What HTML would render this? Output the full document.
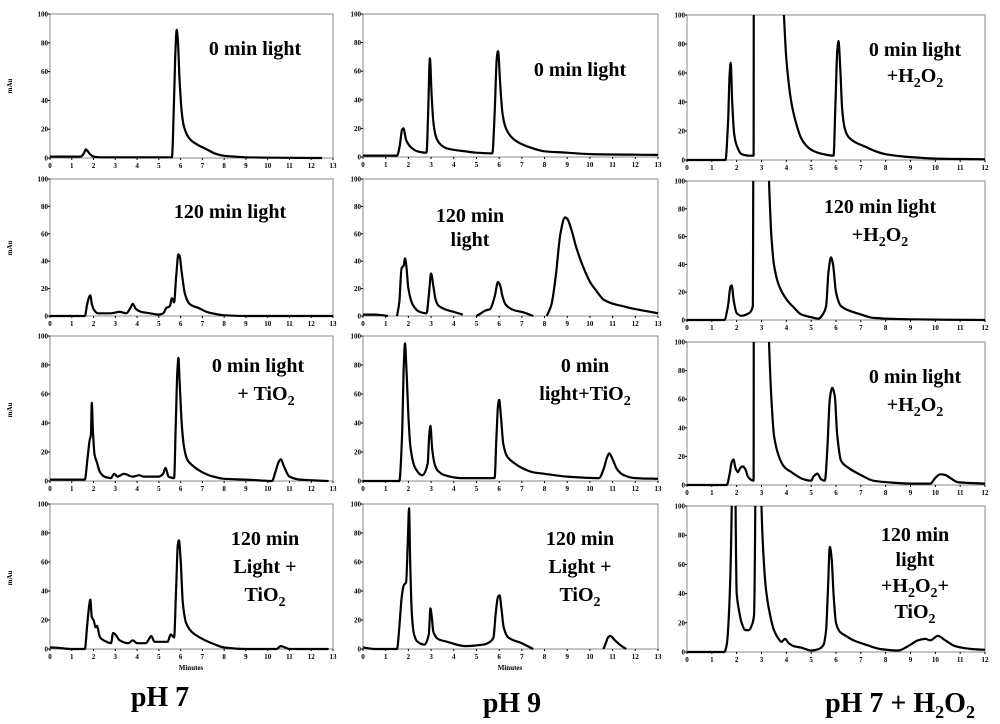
<!DOCTYPE html>
<html><head><meta charset="utf-8"><style>
html,body{margin:0;padding:0;background:#fff}
svg{display:block}
text{font-family:"Liberation Serif",serif;font-weight:bold;fill:#000}
.tk{font-size:7px}
.lb{font-size:20px}
</style></head><body>
<svg id="fig" width="1000" height="724" viewBox="0 0 1000 724" xmlns="http://www.w3.org/2000/svg">
<defs id="defs"></defs>
<g id="panels"></g>
<text x="12" y="86" class="tk" transform="rotate(-90 12 86)" text-anchor="middle">mAu</text>
<text x="12" y="248" class="tk" transform="rotate(-90 12 248)" text-anchor="middle">mAu</text>
<text x="12" y="410" class="tk" transform="rotate(-90 12 410)" text-anchor="middle">mAu</text>
<text x="12" y="578" class="tk" transform="rotate(-90 12 578)" text-anchor="middle">mAu</text>
<text x="191" y="670" class="tk" text-anchor="middle">Minutes</text>
<text x="510" y="670" class="tk" text-anchor="middle">Minutes</text>
<text x="160" y="706" font-size="28" text-anchor="middle">pH 7</text>
<text x="512" y="712" font-size="28" text-anchor="middle">pH 9</text>
<text x="900" y="712" font-size="28" text-anchor="middle">pH 7 + H<tspan font-size="18" dy="6">2</tspan><tspan dy="-6">O</tspan><tspan font-size="18" dy="6">2</tspan></text>
</svg>
<script>
// ---- data: retention times (min) and absorbance (mAu); null = gap ----
const p1t=[0,1.4,1.55,1.65,1.72,1.85,2.0,2.3,5.6,5.68,5.75,5.82,5.88,5.95,6.05,6.15,6.3,6.5,6.8,7.2,7.6,8,8.5,9,12.5];
const p1v=[1,1,3,6,5,2.5,1,0.5,0.5,30,70,89,80,55,32,22,16,12,9,6,3,1.5,1,0.5,0];
const p2t=[0,1.5,1.62,1.72,1.78,1.9,2.1,2.4,2.8,2.87,2.95,3.02,3.1,3.2,3.4,3.7,4,4.5,5,5.7,5.8,5.9,5.95,6.05,6.15,6.3,6.6,7,7.5,8,9,10,13];
const p2v=[1,1,8,19,20,12,7,4,3,30,69,45,25,15,9,6,5,4,3,2.5,30,70,74,50,30,20,13,9,6,4,3,2,1.5];
const p3t=[0,1.55,1.65,1.72,1.76,1.82,1.9,2.0,2.2,2.5,2.68,2.7,3.3,3.9,4.0,4.2,4.4,4.6,4.8,5,5.5,5.9,5.98,6.05,6.1,6.18,6.25,6.35,6.5,6.8,7.2,7.6,8,9,10,12];
const p3v=[0,0,25,60,67,40,18,10,4,3,3,300,300,100,70,40,25,15,10,7,4,3,40,75,82,60,35,22,16,12,9,6,4,2,1,0.5];
const p4t=[0,1.6,1.7,1.8,1.85,1.92,2.0,2.2,2.5,2.8,3.2,3.5,3.7,3.8,3.95,4.2,4.6,5,5.2,5.35,5.5,5.6,5.7,5.8,5.9,5.95,6.05,6.2,6.4,6.6,6.8,7.2,7.6,8,9,13];
const p4v=[0,0,8,14,15,9,5,2,2,2,3,2,6,9,5,3,2,1,2,6,7,13,10,30,45,44,32,16,9,7,6,3,1.5,0.5,0,0];
const p5t=[0,0.5,1.1,null,1.5,1.6,1.7,1.8,1.85,1.9,2.0,2.2,2.5,2.8,2.9,3.0,3.1,3.2,3.3,3.6,4.0,4.4,null,5.0,5.2,5.4,5.6,5.8,5.95,6.05,6.15,6.3,6.7,7.0,7.5,null,8.1,8.3,8.5,8.7,8.9,9.0,9.2,9.4,9.7,10.0,10.3,10.6,11,11.5,12,12.5,13];
const p5v=[1,1,0,null,0,10,35,37,42,38,20,8,3,2,15,31,22,12,8,5,3,1,null,0,2,4,5,14,25,22,14,8,4,3,0,null,0,8,30,60,72,71,62,50,36,25,18,12,9,7,5,3.5,2];
const p6t=[0,1.5,1.65,1.75,1.8,1.88,2.0,2.2,2.5,2.65,2.7,3.0,3.3,3.4,3.5,3.7,4.0,4.3,4.6,5,5.3,5.5,5.6,5.7,5.8,5.88,6.0,6.2,6.5,7,7.5,8,9,12];
const p6v=[0,0,10,24,25,14,5,3,5,10,300,300,100,60,40,25,15,9,4,2,1,5,10,35,45,40,20,10,7,4,1.5,1,0.5,0];
const p7t=[0,1.6,1.72,1.82,1.88,1.92,1.97,2.05,2.15,2.3,2.5,2.8,2.95,3.1,3.4,3.8,4.1,4.3,5,5.2,5.3,5.45,5.7,5.78,5.85,5.9,5.95,6.05,6.15,6.3,6.6,7,7.5,8,9,10.2,10.35,10.5,10.6,10.75,11,11.5,12.8];
const p7v=[1,1,15,28,32,54,35,18,13,6,3,2,5,3,5,3,4,3,3,5,9,3,2,40,75,85,70,40,24,15,10,6,3,1.5,1,0,6,13,15,10,3,1,0];
const p8t=[0,1.6,1.72,1.8,1.85,1.92,2.0,2.1,2.3,2.6,2.85,2.92,2.97,3.05,3.15,3.3,3.6,4.3,4.8,5.8,5.88,5.95,6.0,6.08,6.18,6.35,6.7,7,7.5,8,9,10.4,10.6,10.75,10.85,11.0,11.2,11.5,12,13];
const p8v=[0,0,30,80,95,75,45,22,9,4,12,32,38,22,12,7,4,2,2,2,30,52,56,44,26,17,12,9,6,5,3,2,8,16,19,15,8,4,2,1.5];
const p9t=[0,1.6,1.72,1.8,1.87,1.95,2.05,2.15,2.25,2.35,2.45,2.55,2.68,2.7,3,3.3,3.4,3.5,3.7,3.9,4.2,4.7,5,5.1,5.25,5.4,5.55,5.65,5.75,5.85,5.95,6.05,6.2,6.5,7,7.5,8,9,9.8,10.0,10.2,10.4,10.6,10.9,11.3,12];
const p9v=[0,0,8,16,18,12,9,12,13,11,6,4,3,300,300,100,60,35,20,13,9,4,3,6,8,4,3,25,60,68,62,35,17,12,7,3,2,1,1,5,7.5,7,5,2,1.5,1];
const p10t=[0,0.1,1,1.6,1.7,1.8,1.85,1.92,2.0,2.1,2.15,2.3,2.6,2.8,2.9,3.0,3.2,3.6,3.8,4.0,4.4,4.55,4.65,4.8,5.4,5.55,5.7,5.8,5.87,5.92,6.0,6.1,6.25,6.5,7,7.6,8,9,10.4,10.6,10.8,11,12.8];
const p10v=[1,1,0,0,15,30,34,22,20,15,16,8,5,4,11,10,6,4,6,4,4,7,9,5,5,10,8,45,72,75,62,32,18,12,7,3,1,0,0,2,1,0,0];
const p11t=[0,0.5,0.9,1.5,1.6,1.7,1.8,1.9,1.97,2.03,2.08,2.15,2.25,2.4,2.7,2.9,2.97,3.03,3.1,3.3,3.7,4.5,5.3,5.6,5.75,5.85,5.95,6.02,6.1,6.2,6.4,7,7.5,null,10.6,10.7,10.8,10.9,11.1,11.4,11.6];
const p11v=[1,0,0,0,15,35,44,46,72,97,60,25,10,5,3,10,28,22,12,7,5,2,3,5,8,25,36,37,28,15,8,4,0,null,0,4,8,9,6,2,0];
const p12t=[0,1.5,1.6,1.7,1.8,1.85,2.0,2.1,2.2,2.35,2.5,2.6,2.7,2.75,2.8,2.9,3.0,3.1,3.2,3.35,3.5,3.65,3.8,3.95,4.1,4.3,4.6,5,5.3,5.5,5.6,5.68,5.75,5.82,5.9,6.0,6.15,6.4,6.7,7.2,7.8,8.5,9,9.3,9.6,9.8,10.1,10.4,10.8,11.5,12];
const p12v=[0,0,5,30,100,300,40,28,20,15,15,18,25,100,300,300,100,60,40,25,15,10,7,9,6,4,3,1,2,5,15,45,72,65,40,20,14,11,8,5,2,1,5,8,9,8,11,8,4,2,1.5];
const yTicks=[0,20,40,60,80,100];
const xTicks13=[0,1,2,3,4,5,6,7,8,9,10,11,12,13];
const xTicks12=[0,1,2,3,4,5,6,7,8,9,10,11,12];

const NS="http://www.w3.org/2000/svg";
const panels=[
 {id:"ph7-0min",t:p1t,v:p1v,x0:50,x1:333,top:14,zero:158,xmax:13,lbl:[["0 min light",255,55]]},
 {id:"ph9-0min",t:p2t,v:p2v,x0:363,x1:658,top:14,zero:157,xmax:13,lbl:[["0 min light",580,76]]},
 {id:"h2o2-0min",t:p3t,v:p3v,x0:687,x1:985,top:15,zero:160,xmax:12,lbl:[["0 min light",915,56],["+H|2|O|2",915,82]]},
 {id:"ph7-120min",t:p4t,v:p4v,x0:50,x1:333,top:179,zero:316,xmax:13,lbl:[["120 min light",230,218]]},
 {id:"ph9-120min",t:p5t,v:p5v,x0:363,x1:658,top:179,zero:316,xmax:13,lbl:[["120 min",470,222],["light",470,246]]},
 {id:"h2o2-120min",t:p6t,v:p6v,x0:687,x1:985,top:181,zero:320,xmax:12,lbl:[["120 min light",880,213],["+H|2|O|2",880,241]]},
 {id:"ph7-0min-tio2",t:p7t,v:p7v,x0:50,x1:333,top:336,zero:481,xmax:13,lbl:[["0 min light",258,372],["+ TiO|2",266,400]]},
 {id:"ph9-0min-tio2",t:p8t,v:p8v,x0:363,x1:658,top:336,zero:481,xmax:13,lbl:[["0 min",585,372],["light+TiO|2",585,400]]},
 {id:"h2o2-0min-tio2",t:p9t,v:p9v,x0:687,x1:985,top:342,zero:485,xmax:12,lbl:[["0 min light",915,383],["+H|2|O|2",915,411]]},
 {id:"ph7-120min-tio2",t:p10t,v:p10v,x0:50,x1:333,top:504,zero:649,xmax:13,lbl:[["120 min",265,545],["Light +",265,573],["TiO|2",265,601]]},
 {id:"ph9-120min-tio2",t:p11t,v:p11v,x0:363,x1:658,top:504,zero:649,xmax:13,lbl:[["120 min",580,545],["Light +",580,573],["TiO|2",580,601]]},
 {id:"h2o2-120min-tio2",t:p12t,v:p12v,x0:687,x1:985,top:506,zero:652,xmax:12,lbl:[["120 min",915,541],["light",915,566],["+H|2|O|2|+",915,592],["TiO|2",915,618]]}
];
const root=document.getElementById("panels"),defs=document.getElementById("defs");
function mk(tag,attrs,parent){const e=document.createElementNS(NS,tag);for(const k in attrs)e.setAttribute(k,attrs[k]);parent.appendChild(e);return e;}
// monotone cubic (Fritsch-Carlson) path through pixel points
function monoPath(P){
 const n=P.length;if(n<2)return "";
 let d="M"+P[0][0].toFixed(1)+" "+P[0][1].toFixed(1);
 if(n===2)return d+"L"+P[1][0].toFixed(1)+" "+P[1][1].toFixed(1);
 const dx=[],s=[],m=[];
 for(let i=0;i<n-1;i++){dx[i]=P[i+1][0]-P[i][0];s[i]=(P[i+1][1]-P[i][1])/dx[i];}
 m[0]=s[0];m[n-1]=s[n-2];
 for(let i=1;i<n-1;i++){m[i]=(s[i-1]*s[i]<=0)?0:(3*(dx[i-1]+dx[i]))/((2*dx[i]+dx[i-1])/s[i-1]+(dx[i]+2*dx[i-1])/s[i]);}
 for(let i=0;i<n-1;i++){
  const h=dx[i];
  d+="C"+(P[i][0]+h/3).toFixed(1)+" "+(P[i][1]+m[i]*h/3).toFixed(1)+" "+(P[i+1][0]-h/3).toFixed(1)+" "+(P[i+1][1]-m[i+1]*h/3).toFixed(1)+" "+P[i+1][0].toFixed(1)+" "+P[i+1][1].toFixed(1);
 }
 return d;
}
panels.forEach((p,i)=>{
 const g=mk("g",{},root);
 
 
 const xs=t=>p.x0+(t/p.xmax)*(p.x1-p.x0);
 const ys=v=>p.zero-(v/100)*(p.zero-p.top);
 const cp=mk("clipPath",{id:"c"+i},defs);
 mk("rect",{x:p.x0,y:p.top,width:p.x1-p.x0,height:p.zero-p.top+2},cp);
 const fr=mk("rect",{x:p.x0,y:p.top,width:p.x1-p.x0,height:p.zero-p.top,fill:"none",stroke:"#888","stroke-width":1},g);
 
 
 yTicks.forEach(v=>{
  const tx=mk("text",{x:p.x0-2,y:ys(v)+2.5,class:"tk","text-anchor":"end"},g);tx.textContent=v;
  
  
  mk("line",{x1:p.x0-2,x2:p.x0,y1:ys(v),y2:ys(v),stroke:"#000","stroke-width":1},g);
 });
 (p.xmax===13?xTicks13:xTicks12).forEach(t=>{
  const tx=mk("text",{x:xs(t),y:p.zero+10,class:"tk","text-anchor":"middle"},g);tx.textContent=t;
  
  
  mk("line",{x1:xs(t),x2:xs(t),y1:p.zero,y2:p.zero+2,stroke:"#000","stroke-width":1},g);
 });
 let d="",seg=[];
 const flush=()=>{if(seg.length)d+=monoPath(seg)+" ";seg=[];};
 p.t.forEach((t,k)=>{const v=p.v[k];if(t===null||v===null){flush();return;}seg.push([xs(t),ys(v)]);});
 flush();
 const path=mk("path",{d:d,fill:"none",stroke:"#000","stroke-width":2.2,"stroke-linejoin":"round","clip-path":"url(#c"+i+")"},g);
 
 
 p.lbl.forEach(([s,x,y])=>{
  const tx=mk("text",{x:x,y:y,class:"lb","text-anchor":"middle"},g);
  
  
  const parts=s.split("|");
  parts.forEach((pt,j)=>{
   const ts=mk("tspan",{},tx);ts.textContent=pt;
   if(j%2===1){ts.setAttribute("font-size","14");ts.setAttribute("dy","5");}
   else if(j>0){ts.setAttribute("dy","-5");}
  });
 });
});
</script>
</body></html>
